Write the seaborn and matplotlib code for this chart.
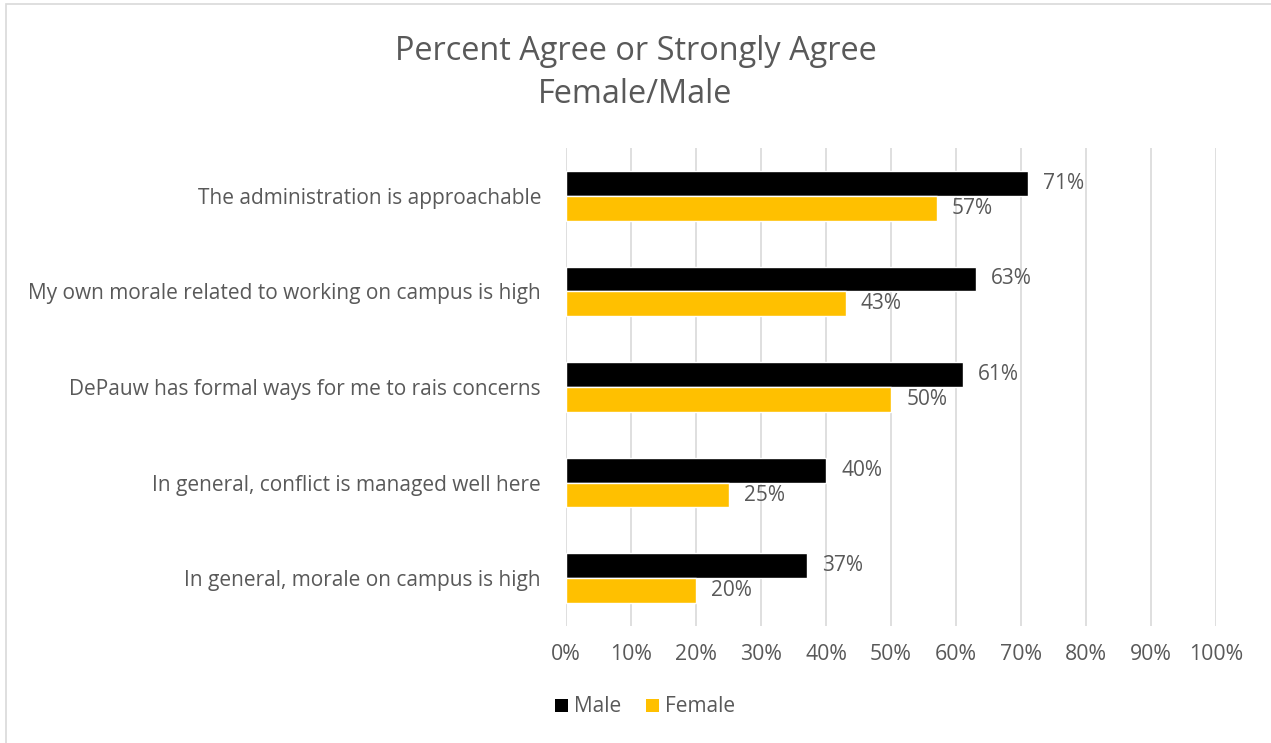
import matplotlib
matplotlib.use("Agg")
import matplotlib.pyplot as plt
from matplotlib.patches import Rectangle, Patch
import seaborn as sns
import pandas as pd

# Survey items (top to bottom) and percent agreeing, by group
statements = [
    "The administration is approachable",
    "My own morale related to working on campus is high",
    "DePauw has formal ways for me to rais concerns",
    "In general, conflict is managed well here",
    "In general, morale on campus is high",
]
male = [71, 63, 61, 40, 37]
female = [57, 43, 50, 25, 20]
groups = ["Male", "Female"]
x_ticks = [0, 10, 20, 30, 40, 50, 60, 70, 80, 90, 100]

TEXT = "#595959"
colors = {"Male": "#000000", "Female": "#FFC000"}

df = pd.DataFrame({
    "statement": statements * 2,
    "group": ["Male"] * len(statements) + ["Female"] * len(statements),
    "pct": male + female,
})

sns.set_theme(style="white")
plt.rcParams["font.family"] = ["Open Sans", "DejaVu Sans"]

W, H = 1271, 743
fig = plt.figure(figsize=(W / 100, H / 100), dpi=100)
ax = fig.add_axes([566 / W, 1 - 626 / H, 650 / W, 478 / H])

sns.barplot(data=df, y="statement", x="pct", hue="group", order=statements,
            hue_order=groups, palette=colors, orient="h", width=0.52,
            saturation=1, legend=False, ax=ax, zorder=3)

ax.set_xlim(0, 100)
ax.set_xticks(x_ticks)
ax.set_xticklabels([f"{t}%" for t in x_ticks])
ax.xaxis.grid(True, color="#D9D9D9", linewidth=1.2, zorder=0)
ax.set_axisbelow(True)
for s in ax.spines.values():
    s.set_visible(False)
ax.set_xlabel("")
ax.set_ylabel("")
ax.tick_params(axis="x", colors=TEXT, labelsize=15.3, pad=13, length=0)
ax.tick_params(axis="y", colors=TEXT, labelsize=15, pad=18, length=0)

for cont in ax.containers:
    ax.bar_label(cont, labels=[f"{v:.0f}%" for v in cont.datavalues],
                 padding=11, color=TEXT, fontsize=15)

fig.text(0.5, 1 - 73 / H, "Percent Agree or Strongly Agree\nFemale/Male",
         ha="center", va="center", fontsize=23.4, color=TEXT, linespacing=1.37)

handles = [Patch(facecolor=colors[g], edgecolor="none") for g in groups]
fig.legend(handles, groups, loc="center", bbox_to_anchor=(645 / W, 1 - 707 / H),
           ncol=2, frameon=False, fontsize=15, labelcolor=TEXT,
           handlelength=0.6, handleheight=0.6, handletextpad=0.3,
           columnspacing=1.2)

fig.patches.append(Rectangle((6 / W, -0.05), 1.05, 1 - 4 / H + 0.05,
                             transform=fig.transFigure, fill=False,
                             edgecolor="#D9D9D9", linewidth=1.2))

fig.savefig("out.png", dpi=100)
